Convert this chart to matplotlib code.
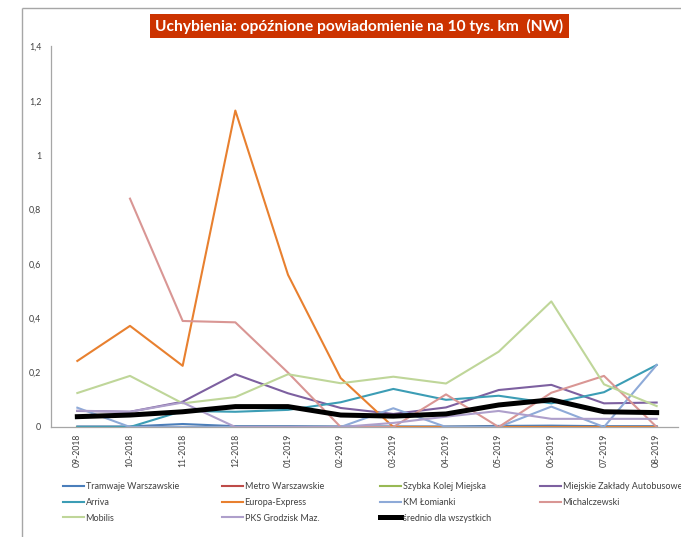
import numpy as np
import matplotlib.pyplot as plt
from matplotlib.lines import Line2D
from matplotlib.patches import Rectangle

# data
months = ['09-2018', '10-2018', '11-2018', '12-2018', '01-2019', '02-2019',
          '03-2019', '04-2019', '05-2019', '06-2019', '07-2019', '08-2019']

tramwaje = [0.002, 0.002, 0.011, 0.003, 0.003, 0.002, 0.002, 0.002, 0.004, 0.005, 0.003, 0.003]
metro = [0, 0, 0, 0, 0, 0, 0, 0, 0, 0, 0, 0]
skm = [0, 0, 0, 0, 0, 0, 0, 0, 0, 0, 0, 0]
mza = [0.059, 0.056, 0.093, 0.194, 0.124, 0.070, 0.048, 0.072, 0.136, 0.155, 0.087, 0.090]
arriva = [0, 0, 0.059, 0.056, 0.063, 0.091, 0.140, 0.100, 0.115, 0.087, 0.128, 0.228]
europa = [0.243, 0.372, 0.225, 1.164, 0.560, 0.180, 0, 0, 0, 0, 0, 0]
km_lomianki = [0.071, 0, 0, 0, 0, 0, 0.069, 0, 0, 0.075, 0, 0.228]
michalczewski = [np.nan, 0.840, 0.390, 0.385, 0.200, 0, 0, 0.120, 0, 0.126, 0.188, 0]
mobilis = [0.125, 0.188, 0.087, 0.110, 0.194, 0.161, 0.185, 0.160, 0.277, 0.462, 0.157, 0.077]
pks = [0.060, 0.056, 0.090, 0, 0, 0, 0.015, 0.038, 0.059, 0.030, 0.030, 0.030]
srednio = [0.038, 0.044, 0.056, 0.075, 0.075, 0.044, 0.040, 0.048, 0.081, 0.100, 0.056, 0.053]

names = ['Tramwaje Warszawskie', 'Metro Warszawskie', 'Szybka Kolej Miejska',
         'Miejskie Zakłady Autobusowe', 'Arriva', 'Europa-Express', 'KM Łomianki',
         'Michalczewski', 'Mobilis', 'PKS Grodzisk Maz.', 'średnio dla wszystkich']
series = [tramwaje, metro, skm, mza, arriva, europa, km_lomianki,
          michalczewski, mobilis, pks, srednio]
colors = ['#4A7EBB', '#BE4B48', '#98B954', '#7D60A0', '#3C9DB5', '#E8802F',
          '#8EAAD8', '#D99694', '#BFD699', '#AE9FCB', '#000000']

plt.rcParams['font.family'] = ['Lato', 'DejaVu Sans']

W, H = 681, 537
fig = plt.figure(figsize=(W / 100, H / 100), dpi=100)

# outer chart frame: only left and top edges show
fig.lines.append(Line2D([22 / W, 22 / W], [0, 1 - 8 / H], transform=fig.transFigure,
                        color='#A6A6A6', lw=1, solid_capstyle='butt'))
fig.lines.append(Line2D([22 / W, 1.0], [1 - 8 / H, 1 - 8 / H], transform=fig.transFigure,
                        color='#A6A6A6', lw=1, solid_capstyle='butt'))

# category axis: points sit in the middle of each 52.7 px slot
ax = fig.add_axes([51 / W, 1 - 427 / H, 632 / W, (427 - 46.4) / H])
x = np.arange(len(months))
handles = []
for vals, name, col in zip(series, names, colors):
    lw = 3.6 if col == '#000000' else 1.5
    h, = ax.plot(x, vals, color=col, lw=lw, label=name, solid_joinstyle='round')
    handles.append(h)

ax.set_xlim(-0.5, 11.5)
ax.set_ylim(0, 1.4)
ax.set_xticks(x)
ax.set_xticklabels(months, rotation=90, fontsize=6.2, color='#404040')
ax.set_yticks(np.arange(0, 1.41, 0.2))
ax.set_yticklabels(['0', '0,2', '0,4', '0,6', '0,8', '1', '1,2', '1,4'], fontsize=6.4, color='#404040')
ax.tick_params(axis='both', length=0)
ax.tick_params(axis='y', pad=7)
ax.tick_params(axis='x', pad=5)
ax.spines['top'].set_visible(False)
ax.spines['right'].set_visible(False)
for s in ['left', 'bottom']:
    ax.spines[s].set_color('#A6A6A6')
    ax.spines[s].set_linewidth(0.9)
ax.spines['bottom'].set_bounds(-0.5, 11.4)
ax.set_facecolor('none')

# title box
fig.patches.append(Rectangle((150 / W, 1 - 38 / H), 419 / W, 24 / H, transform=fig.transFigure,
                             fc='#CC3300', ec='none'))
t = fig.text(359.5 / W, 1 - 26.5 / H, 'Uchybienia: opóźnione powiadomienie na 10 tys. km  (NW)',
             ha='center', va='center', color='white', fontweight='bold', fontsize=12)
r = fig.canvas.get_renderer()
tw = t.get_window_extent(r).width
t.set_fontsize(12 * 405 / tw)

# legend, one column per legend to keep even spacing
col_x = [63, 222, 380, 540]
for c in range(4):
    leg = fig.legend(handles=handles[c::4], loc='upper left',
                     bbox_to_anchor=(col_x[c] / W, 1 - 482 / H), frameon=False,
                     fontsize=6.5, handlelength=2.3, handletextpad=0.2,
                     labelspacing=0.75, borderpad=0, borderaxespad=0)
    for txt in leg.get_texts():
        txt.set_color('#404040')

fig.savefig('out.png', dpi=100)
